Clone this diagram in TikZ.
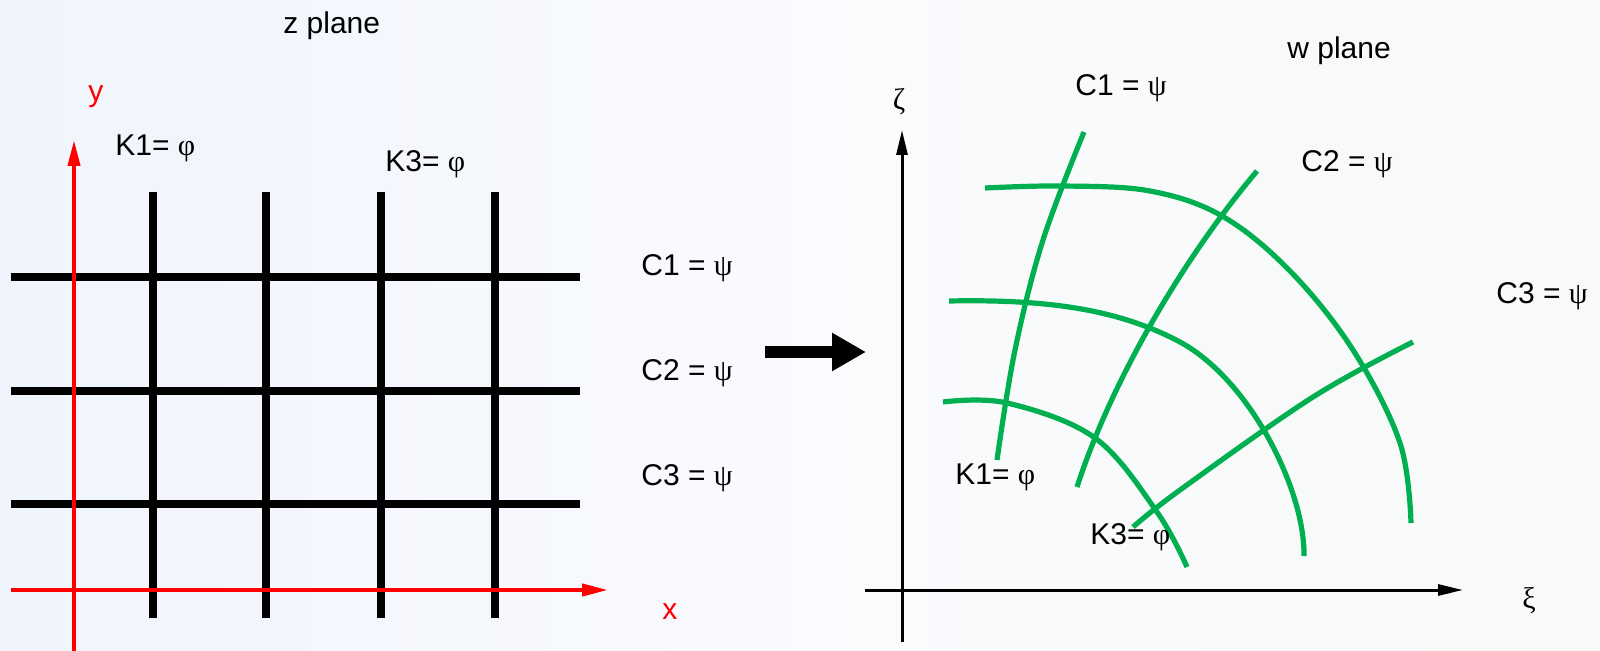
\documentclass[tikz,border=0pt]{standalone}
\usepackage{fontspec}
\setmainfont{Liberation Sans}
\newfontfamily\gr{Liberation Serif}
\usetikzlibrary{arrows.meta}
\definecolor{cgreen}{RGB}{0,176,80}
\definecolor{bgl}{RGB}{240,244,252}
\definecolor{bgr}{RGB}{248,250,247}
\tikzset{
  lbl/.style={anchor=base west, inner sep=0pt, font=\fontsize{15pt}{17pt}\selectfont},
  grid/.style={line width=3.6pt, black},
  redaxis/.style={line width=2pt, red, -{Triangle[length=13pt,width=6pt]}},
  blkaxis/.style={line width=1.5pt, black, -{Triangle[length=12.5pt,width=5.5pt]}},
  gcurve/.style={line width=2.6pt, cgreen},
  bigarrow/.style={line width=6pt, black, -{Triangle[length=17pt,width=18pt]}}
}
\begin{document}
\begin{tikzpicture}[x=0.5pt,y=-0.5pt]
\useasboundingbox (0,0) rectangle (1600,651);
\shade[left color=bgl, right color=bgr, middle color=white!60!bgl] (0,0) rectangle (1600,651);

% ---- z plane ----
\node[lbl] (zt) at (283,34) {z plane};
\node[lbl, text=red] (ylab) at (88,102) {y};
\node[lbl, text=red] (xlab) at (662,619) {x};

\coordinate (yb) at (74,651);
\coordinate (yt) at (74,140);
\coordinate (xl) at (11,590);
\coordinate (xr) at (608,590);

% vertical grid lines
\foreach \x [count=\i] in {153,266,381,495}{
  \coordinate (vt\i) at (\x,192);
  \coordinate (vb\i) at (\x,618);
  \draw[grid] (vt\i) -- (vb\i);
}
% horizontal grid lines
\foreach \y [count=\i] in {277,391,504}{
  \coordinate (hl\i) at (11,\y);
  \coordinate (hr\i) at (580,\y);
  \draw[grid] (hl\i) -- (hr\i);
}
\draw[redaxis] (yb) -- (yt);
\draw[redaxis] (xl) -- (xr);

\node[lbl] (k1a) at (115,156) {K1= {\gr φ}};
\node[lbl] (k3a) at (385,172) {K3= {\gr φ}};
\node[lbl] (c1a) at (641,276) {C1 = {\gr ψ}};
\node[lbl] (c2a) at (641,381) {C2 = {\gr ψ}};
\node[lbl] (c3a) at (641,486) {C3 = {\gr ψ}};

% ---- mapping arrow ----
\coordinate (ma) at (765,352);
\coordinate (mb) at (866,352);
\draw[bigarrow] (ma) -- (mb);

% ---- w plane ----
\node[lbl] (wt) at (1287,59) {w plane};
\node[inner sep=0pt, font=\gr\fontsize{15pt}{17pt}\selectfont] (zeta) at (899,102) {ζ};
\node[inner sep=0pt, font=\gr\fontsize{15pt}{17pt}\selectfont] (xi) at (1529,601) {ξ};
\coordinate (zb) at (902,642);
\coordinate (zt2) at (902,130);
\coordinate (xil) at (865,590);
\coordinate (xir) at (1463,590);
\draw[blkaxis] (zb) -- (zt2);
\draw[blkaxis] (xil) -- (xir);

% C curves
\draw[gcurve] plot[smooth, tension=0.6] coordinates {(985,188) (1063,186) (1150,191) (1222,216) (1290,271) (1353,350) (1400,443) (1411,523)};
\draw[gcurve] (949,301) .. controls (1050,299) and (1120,310) .. (1180,342)
                        .. controls (1250,380) and (1305,490) .. (1304,556);
\draw[gcurve] plot[smooth, tension=0.6] coordinates {(943,402) (1007,403) (1095,438) (1157,512) (1187,567)};
% K curves
\draw[gcurve] plot[smooth, tension=0.6] coordinates {(1084,132) (1043,240) (1015,350) (997,460)};
\draw[gcurve] (1257,171) .. controls (1180,262) and (1110,385) .. (1077,487);
\draw[gcurve] plot[smooth, tension=0.6] coordinates {(1413,342) (1313,397) (1180,490) (1133,527)};

\node[lbl] (c1b) at (1075,96) {C1 = {\gr ψ}};
\node[lbl] (c2b) at (1301,172) {C2 = {\gr ψ}};
\node[lbl] (c3b) at (1496,304) {C3 = {\gr ψ}};
\node[lbl] (k1b) at (955,485) {K1= {\gr φ}};
\node[lbl] (k3b) at (1090,545) {K3= {\gr φ}};
\end{tikzpicture}
\end{document}
